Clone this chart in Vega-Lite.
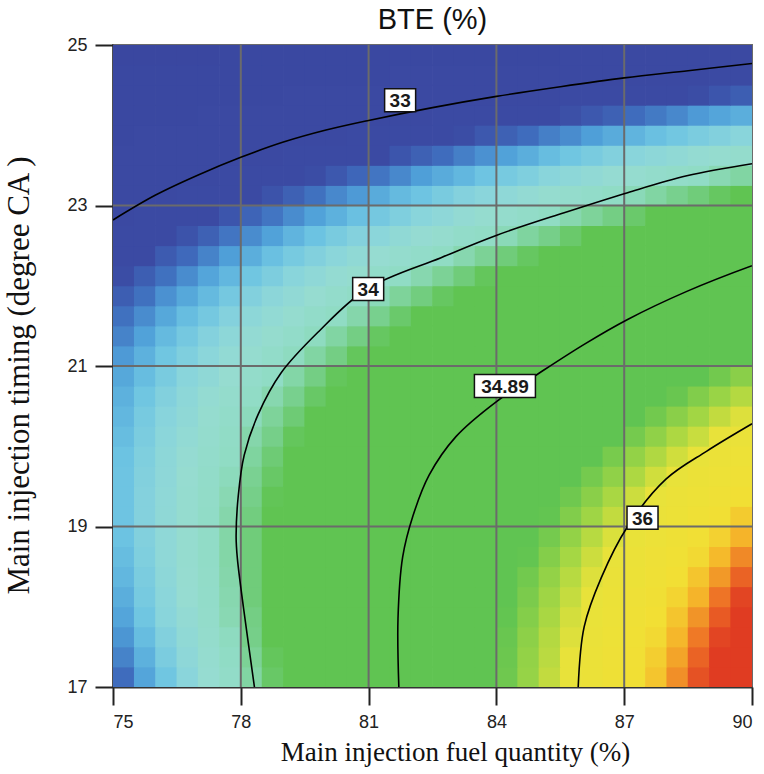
{
  "$schema": "https://vega.github.io/schema/vega-lite/v6.json",
  "width": 639,
  "height": 642,
  "autosize": {"type": "none"},
  "padding": {"left": 113, "top": 45, "right": 12, "bottom": 87},
  "background": "white",
  "title": {"text": "BTE (%)", "font": "Liberation Sans", "fontSize": 29, "fontWeight": "normal", "color": "#111", "anchor": "middle", "baseline": "alphabetic", "offset": 11, "dy": 33},
  "config": {"view": {"stroke": "#6b6b6b", "strokeWidth": 2}},
  "datasets": {
    "grid": [
{"x":75.25,"y":17.125,"b":33.27},{"x":75.75,"y":17.125,"b":33.40},{"x":76.25,"y":17.125,"b":33.52},{"x":76.75,"y":17.125,"b":33.65},{"x":77.25,"y":17.125,"b":33.78},{"x":77.75,"y":17.125,"b":33.90},{"x":78.25,"y":17.125,"b":34.03},{"x":78.75,"y":17.125,"b":34.16},{"x":79.25,"y":17.125,"b":34.28},{"x":79.75,"y":17.125,"b":34.41},{"x":80.25,"y":17.125,"b":34.54},{"x":80.75,"y":17.125,"b":34.67},{"x":81.25,"y":17.125,"b":34.79},{"x":81.75,"y":17.125,"b":34.92},{"x":82.25,"y":17.125,"b":35.05},{"x":82.75,"y":17.125,"b":35.17},{"x":83.25,"y":17.125,"b":35.30},{"x":83.75,"y":17.125,"b":35.43},{"x":84.25,"y":17.125,"b":35.55},{"x":84.75,"y":17.125,"b":35.68},{"x":85.25,"y":17.125,"b":35.81},{"x":85.75,"y":17.125,"b":35.94},{"x":86.25,"y":17.125,"b":36.06},{"x":86.75,"y":17.125,"b":36.19},{"x":87.25,"y":17.125,"b":36.32},{"x":87.75,"y":17.125,"b":36.44},{"x":88.25,"y":17.125,"b":36.57},{"x":88.75,"y":17.125,"b":36.70},{"x":89.25,"y":17.125,"b":36.82},{"x":89.75,"y":17.125,"b":36.95},
{"x":75.25,"y":17.375,"b":33.32},{"x":75.75,"y":17.375,"b":33.44},{"x":76.25,"y":17.375,"b":33.57},{"x":76.75,"y":17.375,"b":33.69},{"x":77.25,"y":17.375,"b":33.81},{"x":77.75,"y":17.375,"b":33.94},{"x":78.25,"y":17.375,"b":34.06},{"x":78.75,"y":17.375,"b":34.18},{"x":79.25,"y":17.375,"b":34.31},{"x":79.75,"y":17.375,"b":34.43},{"x":80.25,"y":17.375,"b":34.56},{"x":80.75,"y":17.375,"b":34.68},{"x":81.25,"y":17.375,"b":34.80},{"x":81.75,"y":17.375,"b":34.93},{"x":82.25,"y":17.375,"b":35.05},{"x":82.75,"y":17.375,"b":35.17},{"x":83.25,"y":17.375,"b":35.30},{"x":83.75,"y":17.375,"b":35.42},{"x":84.25,"y":17.375,"b":35.54},{"x":84.75,"y":17.375,"b":35.67},{"x":85.25,"y":17.375,"b":35.79},{"x":85.75,"y":17.375,"b":35.92},{"x":86.25,"y":17.375,"b":36.04},{"x":86.75,"y":17.375,"b":36.16},{"x":87.25,"y":17.375,"b":36.29},{"x":87.75,"y":17.375,"b":36.41},{"x":88.25,"y":17.375,"b":36.53},{"x":88.75,"y":17.375,"b":36.66},{"x":89.25,"y":17.375,"b":36.78},{"x":89.75,"y":17.375,"b":36.91},
{"x":75.25,"y":17.625,"b":33.36},{"x":75.75,"y":17.625,"b":33.48},{"x":76.25,"y":17.625,"b":33.60},{"x":76.75,"y":17.625,"b":33.72},{"x":77.25,"y":17.625,"b":33.84},{"x":77.75,"y":17.625,"b":33.96},{"x":78.25,"y":17.625,"b":34.09},{"x":78.75,"y":17.625,"b":34.21},{"x":79.25,"y":17.625,"b":34.33},{"x":79.75,"y":17.625,"b":34.45},{"x":80.25,"y":17.625,"b":34.57},{"x":80.75,"y":17.625,"b":34.69},{"x":81.25,"y":17.625,"b":34.81},{"x":81.75,"y":17.625,"b":34.93},{"x":82.25,"y":17.625,"b":35.05},{"x":82.75,"y":17.625,"b":35.17},{"x":83.25,"y":17.625,"b":35.29},{"x":83.75,"y":17.625,"b":35.41},{"x":84.25,"y":17.625,"b":35.53},{"x":84.75,"y":17.625,"b":35.65},{"x":85.25,"y":17.625,"b":35.77},{"x":85.75,"y":17.625,"b":35.89},{"x":86.25,"y":17.625,"b":36.01},{"x":86.75,"y":17.625,"b":36.13},{"x":87.25,"y":17.625,"b":36.25},{"x":87.75,"y":17.625,"b":36.37},{"x":88.25,"y":17.625,"b":36.49},{"x":88.75,"y":17.625,"b":36.61},{"x":89.25,"y":17.625,"b":36.73},{"x":89.75,"y":17.625,"b":36.85},
{"x":75.25,"y":17.875,"b":33.40},{"x":75.75,"y":17.875,"b":33.52},{"x":76.25,"y":17.875,"b":33.64},{"x":76.75,"y":17.875,"b":33.75},{"x":77.25,"y":17.875,"b":33.87},{"x":77.75,"y":17.875,"b":33.99},{"x":78.25,"y":17.875,"b":34.10},{"x":78.75,"y":17.875,"b":34.22},{"x":79.25,"y":17.875,"b":34.34},{"x":79.75,"y":17.875,"b":34.45},{"x":80.25,"y":17.875,"b":34.57},{"x":80.75,"y":17.875,"b":34.69},{"x":81.25,"y":17.875,"b":34.81},{"x":81.75,"y":17.875,"b":34.92},{"x":82.25,"y":17.875,"b":35.04},{"x":82.75,"y":17.875,"b":35.16},{"x":83.25,"y":17.875,"b":35.27},{"x":83.75,"y":17.875,"b":35.39},{"x":84.25,"y":17.875,"b":35.51},{"x":84.75,"y":17.875,"b":35.62},{"x":85.25,"y":17.875,"b":35.74},{"x":85.75,"y":17.875,"b":35.86},{"x":86.25,"y":17.875,"b":35.98},{"x":86.75,"y":17.875,"b":36.09},{"x":87.25,"y":17.875,"b":36.21},{"x":87.75,"y":17.875,"b":36.33},{"x":88.25,"y":17.875,"b":36.44},{"x":88.75,"y":17.875,"b":36.56},{"x":89.25,"y":17.875,"b":36.68},{"x":89.75,"y":17.875,"b":36.79},
{"x":75.25,"y":18.125,"b":33.43},{"x":75.75,"y":18.125,"b":33.55},{"x":76.25,"y":18.125,"b":33.66},{"x":76.75,"y":18.125,"b":33.78},{"x":77.25,"y":18.125,"b":33.89},{"x":77.75,"y":18.125,"b":34.00},{"x":78.25,"y":18.125,"b":34.12},{"x":78.75,"y":18.125,"b":34.23},{"x":79.25,"y":18.125,"b":34.34},{"x":79.75,"y":18.125,"b":34.46},{"x":80.25,"y":18.125,"b":34.57},{"x":80.75,"y":18.125,"b":34.68},{"x":81.25,"y":18.125,"b":34.80},{"x":81.75,"y":18.125,"b":34.91},{"x":82.25,"y":18.125,"b":35.03},{"x":82.75,"y":18.125,"b":35.14},{"x":83.25,"y":18.125,"b":35.25},{"x":83.75,"y":18.125,"b":35.37},{"x":84.25,"y":18.125,"b":35.48},{"x":84.75,"y":18.125,"b":35.59},{"x":85.25,"y":18.125,"b":35.71},{"x":85.75,"y":18.125,"b":35.82},{"x":86.25,"y":18.125,"b":35.93},{"x":86.75,"y":18.125,"b":36.05},{"x":87.25,"y":18.125,"b":36.16},{"x":87.75,"y":18.125,"b":36.28},{"x":88.25,"y":18.125,"b":36.39},{"x":88.75,"y":18.125,"b":36.50},{"x":89.25,"y":18.125,"b":36.62},{"x":89.75,"y":18.125,"b":36.73},
{"x":75.25,"y":18.375,"b":33.46},{"x":75.75,"y":18.375,"b":33.57},{"x":76.25,"y":18.375,"b":33.68},{"x":76.75,"y":18.375,"b":33.79},{"x":77.25,"y":18.375,"b":33.90},{"x":77.75,"y":18.375,"b":34.01},{"x":78.25,"y":18.375,"b":34.12},{"x":78.75,"y":18.375,"b":34.23},{"x":79.25,"y":18.375,"b":34.34},{"x":79.75,"y":18.375,"b":34.45},{"x":80.25,"y":18.375,"b":34.56},{"x":80.75,"y":18.375,"b":34.67},{"x":81.25,"y":18.375,"b":34.78},{"x":81.75,"y":18.375,"b":34.90},{"x":82.25,"y":18.375,"b":35.01},{"x":82.75,"y":18.375,"b":35.12},{"x":83.25,"y":18.375,"b":35.23},{"x":83.75,"y":18.375,"b":35.34},{"x":84.25,"y":18.375,"b":35.45},{"x":84.75,"y":18.375,"b":35.56},{"x":85.25,"y":18.375,"b":35.67},{"x":85.75,"y":18.375,"b":35.78},{"x":86.25,"y":18.375,"b":35.89},{"x":86.75,"y":18.375,"b":36.00},{"x":87.25,"y":18.375,"b":36.11},{"x":87.75,"y":18.375,"b":36.22},{"x":88.25,"y":18.375,"b":36.33},{"x":88.75,"y":18.375,"b":36.44},{"x":89.25,"y":18.375,"b":36.55},{"x":89.75,"y":18.375,"b":36.66},
{"x":75.25,"y":18.625,"b":33.48},{"x":75.75,"y":18.625,"b":33.59},{"x":76.25,"y":18.625,"b":33.70},{"x":76.75,"y":18.625,"b":33.80},{"x":77.25,"y":18.625,"b":33.91},{"x":77.75,"y":18.625,"b":34.02},{"x":78.25,"y":18.625,"b":34.12},{"x":78.75,"y":18.625,"b":34.23},{"x":79.25,"y":18.625,"b":34.34},{"x":79.75,"y":18.625,"b":34.44},{"x":80.25,"y":18.625,"b":34.55},{"x":80.75,"y":18.625,"b":34.66},{"x":81.25,"y":18.625,"b":34.77},{"x":81.75,"y":18.625,"b":34.87},{"x":82.25,"y":18.625,"b":34.98},{"x":82.75,"y":18.625,"b":35.09},{"x":83.25,"y":18.625,"b":35.19},{"x":83.75,"y":18.625,"b":35.30},{"x":84.25,"y":18.625,"b":35.41},{"x":84.75,"y":18.625,"b":35.51},{"x":85.25,"y":18.625,"b":35.62},{"x":85.75,"y":18.625,"b":35.73},{"x":86.25,"y":18.625,"b":35.84},{"x":86.75,"y":18.625,"b":35.94},{"x":87.25,"y":18.625,"b":36.05},{"x":87.75,"y":18.625,"b":36.16},{"x":88.25,"y":18.625,"b":36.26},{"x":88.75,"y":18.625,"b":36.37},{"x":89.25,"y":18.625,"b":36.48},{"x":89.75,"y":18.625,"b":36.58},
{"x":75.25,"y":18.875,"b":33.50},{"x":75.75,"y":18.875,"b":33.60},{"x":76.25,"y":18.875,"b":33.70},{"x":76.75,"y":18.875,"b":33.81},{"x":77.25,"y":18.875,"b":33.91},{"x":77.75,"y":18.875,"b":34.02},{"x":78.25,"y":18.875,"b":34.12},{"x":78.75,"y":18.875,"b":34.22},{"x":79.25,"y":18.875,"b":34.33},{"x":79.75,"y":18.875,"b":34.43},{"x":80.25,"y":18.875,"b":34.53},{"x":80.75,"y":18.875,"b":34.64},{"x":81.25,"y":18.875,"b":34.74},{"x":81.75,"y":18.875,"b":34.84},{"x":82.25,"y":18.875,"b":34.95},{"x":82.75,"y":18.875,"b":35.05},{"x":83.25,"y":18.875,"b":35.16},{"x":83.75,"y":18.875,"b":35.26},{"x":84.25,"y":18.875,"b":35.36},{"x":84.75,"y":18.875,"b":35.47},{"x":85.25,"y":18.875,"b":35.57},{"x":85.75,"y":18.875,"b":35.67},{"x":86.25,"y":18.875,"b":35.78},{"x":86.75,"y":18.875,"b":35.88},{"x":87.25,"y":18.875,"b":35.98},{"x":87.75,"y":18.875,"b":36.09},{"x":88.25,"y":18.875,"b":36.19},{"x":88.75,"y":18.875,"b":36.30},{"x":89.25,"y":18.875,"b":36.40},{"x":89.75,"y":18.875,"b":36.50},
{"x":75.25,"y":19.125,"b":33.51},{"x":75.75,"y":19.125,"b":33.61},{"x":76.25,"y":19.125,"b":33.71},{"x":76.75,"y":19.125,"b":33.81},{"x":77.25,"y":19.125,"b":33.91},{"x":77.75,"y":19.125,"b":34.01},{"x":78.25,"y":19.125,"b":34.11},{"x":78.75,"y":19.125,"b":34.21},{"x":79.25,"y":19.125,"b":34.31},{"x":79.75,"y":19.125,"b":34.41},{"x":80.25,"y":19.125,"b":34.51},{"x":80.75,"y":19.125,"b":34.61},{"x":81.25,"y":19.125,"b":34.71},{"x":81.75,"y":19.125,"b":34.81},{"x":82.25,"y":19.125,"b":34.91},{"x":82.75,"y":19.125,"b":35.01},{"x":83.25,"y":19.125,"b":35.11},{"x":83.75,"y":19.125,"b":35.21},{"x":84.25,"y":19.125,"b":35.31},{"x":84.75,"y":19.125,"b":35.41},{"x":85.25,"y":19.125,"b":35.51},{"x":85.75,"y":19.125,"b":35.61},{"x":86.25,"y":19.125,"b":35.71},{"x":86.75,"y":19.125,"b":35.81},{"x":87.25,"y":19.125,"b":35.91},{"x":87.75,"y":19.125,"b":36.01},{"x":88.25,"y":19.125,"b":36.11},{"x":88.75,"y":19.125,"b":36.21},{"x":89.25,"y":19.125,"b":36.32},{"x":89.75,"y":19.125,"b":36.42},
{"x":75.25,"y":19.375,"b":33.51},{"x":75.75,"y":19.375,"b":33.61},{"x":76.25,"y":19.375,"b":33.70},{"x":76.75,"y":19.375,"b":33.80},{"x":77.25,"y":19.375,"b":33.90},{"x":77.75,"y":19.375,"b":33.99},{"x":78.25,"y":19.375,"b":34.09},{"x":78.75,"y":19.375,"b":34.19},{"x":79.25,"y":19.375,"b":34.29},{"x":79.75,"y":19.375,"b":34.38},{"x":80.25,"y":19.375,"b":34.48},{"x":80.75,"y":19.375,"b":34.58},{"x":81.25,"y":19.375,"b":34.67},{"x":81.75,"y":19.375,"b":34.77},{"x":82.25,"y":19.375,"b":34.87},{"x":82.75,"y":19.375,"b":34.96},{"x":83.25,"y":19.375,"b":35.06},{"x":83.75,"y":19.375,"b":35.16},{"x":84.25,"y":19.375,"b":35.26},{"x":84.75,"y":19.375,"b":35.35},{"x":85.25,"y":19.375,"b":35.45},{"x":85.75,"y":19.375,"b":35.55},{"x":86.25,"y":19.375,"b":35.64},{"x":86.75,"y":19.375,"b":35.74},{"x":87.25,"y":19.375,"b":35.84},{"x":87.75,"y":19.375,"b":35.93},{"x":88.25,"y":19.375,"b":36.03},{"x":88.75,"y":19.375,"b":36.13},{"x":89.25,"y":19.375,"b":36.23},{"x":89.75,"y":19.375,"b":36.32},
{"x":75.25,"y":19.625,"b":33.51},{"x":75.75,"y":19.625,"b":33.60},{"x":76.25,"y":19.625,"b":33.69},{"x":76.75,"y":19.625,"b":33.79},{"x":77.25,"y":19.625,"b":33.88},{"x":77.75,"y":19.625,"b":33.97},{"x":78.25,"y":19.625,"b":34.07},{"x":78.75,"y":19.625,"b":34.16},{"x":79.25,"y":19.625,"b":34.26},{"x":79.75,"y":19.625,"b":34.35},{"x":80.25,"y":19.625,"b":34.44},{"x":80.75,"y":19.625,"b":34.54},{"x":81.25,"y":19.625,"b":34.63},{"x":81.75,"y":19.625,"b":34.72},{"x":82.25,"y":19.625,"b":34.82},{"x":82.75,"y":19.625,"b":34.91},{"x":83.25,"y":19.625,"b":35.01},{"x":83.75,"y":19.625,"b":35.10},{"x":84.25,"y":19.625,"b":35.19},{"x":84.75,"y":19.625,"b":35.29},{"x":85.25,"y":19.625,"b":35.38},{"x":85.75,"y":19.625,"b":35.47},{"x":86.25,"y":19.625,"b":35.57},{"x":86.75,"y":19.625,"b":35.66},{"x":87.25,"y":19.625,"b":35.75},{"x":87.75,"y":19.625,"b":35.85},{"x":88.25,"y":19.625,"b":35.94},{"x":88.75,"y":19.625,"b":36.04},{"x":89.25,"y":19.625,"b":36.13},{"x":89.75,"y":19.625,"b":36.22},
{"x":75.25,"y":19.875,"b":33.50},{"x":75.75,"y":19.875,"b":33.59},{"x":76.25,"y":19.875,"b":33.68},{"x":76.75,"y":19.875,"b":33.77},{"x":77.25,"y":19.875,"b":33.86},{"x":77.75,"y":19.875,"b":33.95},{"x":78.25,"y":19.875,"b":34.04},{"x":78.75,"y":19.875,"b":34.13},{"x":79.25,"y":19.875,"b":34.22},{"x":79.75,"y":19.875,"b":34.31},{"x":80.25,"y":19.875,"b":34.40},{"x":80.75,"y":19.875,"b":34.49},{"x":81.25,"y":19.875,"b":34.58},{"x":81.75,"y":19.875,"b":34.67},{"x":82.25,"y":19.875,"b":34.76},{"x":82.75,"y":19.875,"b":34.85},{"x":83.25,"y":19.875,"b":34.94},{"x":83.75,"y":19.875,"b":35.03},{"x":84.25,"y":19.875,"b":35.12},{"x":84.75,"y":19.875,"b":35.21},{"x":85.25,"y":19.875,"b":35.30},{"x":85.75,"y":19.875,"b":35.40},{"x":86.25,"y":19.875,"b":35.49},{"x":86.75,"y":19.875,"b":35.58},{"x":87.25,"y":19.875,"b":35.67},{"x":87.75,"y":19.875,"b":35.76},{"x":88.25,"y":19.875,"b":35.85},{"x":88.75,"y":19.875,"b":35.94},{"x":89.25,"y":19.875,"b":36.03},{"x":89.75,"y":19.875,"b":36.12},
{"x":75.25,"y":20.125,"b":33.48},{"x":75.75,"y":20.125,"b":33.57},{"x":76.25,"y":20.125,"b":33.66},{"x":76.75,"y":20.125,"b":33.74},{"x":77.25,"y":20.125,"b":33.83},{"x":77.75,"y":20.125,"b":33.92},{"x":78.25,"y":20.125,"b":34.01},{"x":78.75,"y":20.125,"b":34.09},{"x":79.25,"y":20.125,"b":34.18},{"x":79.75,"y":20.125,"b":34.27},{"x":80.25,"y":20.125,"b":34.35},{"x":80.75,"y":20.125,"b":34.44},{"x":81.25,"y":20.125,"b":34.53},{"x":81.75,"y":20.125,"b":34.61},{"x":82.25,"y":20.125,"b":34.70},{"x":82.75,"y":20.125,"b":34.79},{"x":83.25,"y":20.125,"b":34.88},{"x":83.75,"y":20.125,"b":34.96},{"x":84.25,"y":20.125,"b":35.05},{"x":84.75,"y":20.125,"b":35.14},{"x":85.25,"y":20.125,"b":35.22},{"x":85.75,"y":20.125,"b":35.31},{"x":86.25,"y":20.125,"b":35.40},{"x":86.75,"y":20.125,"b":35.48},{"x":87.25,"y":20.125,"b":35.57},{"x":87.75,"y":20.125,"b":35.66},{"x":88.25,"y":20.125,"b":35.75},{"x":88.75,"y":20.125,"b":35.83},{"x":89.25,"y":20.125,"b":35.92},{"x":89.75,"y":20.125,"b":36.01},
{"x":75.25,"y":20.375,"b":33.46},{"x":75.75,"y":20.375,"b":33.55},{"x":76.25,"y":20.375,"b":33.63},{"x":76.75,"y":20.375,"b":33.71},{"x":77.25,"y":20.375,"b":33.80},{"x":77.75,"y":20.375,"b":33.88},{"x":78.25,"y":20.375,"b":33.97},{"x":78.75,"y":20.375,"b":34.05},{"x":79.25,"y":20.375,"b":34.13},{"x":79.75,"y":20.375,"b":34.22},{"x":80.25,"y":20.375,"b":34.30},{"x":80.75,"y":20.375,"b":34.38},{"x":81.25,"y":20.375,"b":34.47},{"x":81.75,"y":20.375,"b":34.55},{"x":82.25,"y":20.375,"b":34.64},{"x":82.75,"y":20.375,"b":34.72},{"x":83.25,"y":20.375,"b":34.80},{"x":83.75,"y":20.375,"b":34.89},{"x":84.25,"y":20.375,"b":34.97},{"x":84.75,"y":20.375,"b":35.05},{"x":85.25,"y":20.375,"b":35.14},{"x":85.75,"y":20.375,"b":35.22},{"x":86.25,"y":20.375,"b":35.30},{"x":86.75,"y":20.375,"b":35.39},{"x":87.25,"y":20.375,"b":35.47},{"x":87.75,"y":20.375,"b":35.56},{"x":88.25,"y":20.375,"b":35.64},{"x":88.75,"y":20.375,"b":35.72},{"x":89.25,"y":20.375,"b":35.81},{"x":89.75,"y":20.375,"b":35.89},
{"x":75.25,"y":20.625,"b":33.44},{"x":75.75,"y":20.625,"b":33.52},{"x":76.25,"y":20.625,"b":33.60},{"x":76.75,"y":20.625,"b":33.68},{"x":77.25,"y":20.625,"b":33.76},{"x":77.75,"y":20.625,"b":33.84},{"x":78.25,"y":20.625,"b":33.92},{"x":78.75,"y":20.625,"b":34.00},{"x":79.25,"y":20.625,"b":34.08},{"x":79.75,"y":20.625,"b":34.16},{"x":80.25,"y":20.625,"b":34.24},{"x":80.75,"y":20.625,"b":34.32},{"x":81.25,"y":20.625,"b":34.40},{"x":81.75,"y":20.625,"b":34.48},{"x":82.25,"y":20.625,"b":34.56},{"x":82.75,"y":20.625,"b":34.64},{"x":83.25,"y":20.625,"b":34.72},{"x":83.75,"y":20.625,"b":34.80},{"x":84.25,"y":20.625,"b":34.88},{"x":84.75,"y":20.625,"b":34.96},{"x":85.25,"y":20.625,"b":35.04},{"x":85.75,"y":20.625,"b":35.12},{"x":86.25,"y":20.625,"b":35.21},{"x":86.75,"y":20.625,"b":35.29},{"x":87.25,"y":20.625,"b":35.37},{"x":87.75,"y":20.625,"b":35.45},{"x":88.25,"y":20.625,"b":35.53},{"x":88.75,"y":20.625,"b":35.61},{"x":89.25,"y":20.625,"b":35.69},{"x":89.75,"y":20.625,"b":35.77},
{"x":75.25,"y":20.875,"b":33.41},{"x":75.75,"y":20.875,"b":33.48},{"x":76.25,"y":20.875,"b":33.56},{"x":76.75,"y":20.875,"b":33.64},{"x":77.25,"y":20.875,"b":33.71},{"x":77.75,"y":20.875,"b":33.79},{"x":78.25,"y":20.875,"b":33.87},{"x":78.75,"y":20.875,"b":33.94},{"x":79.25,"y":20.875,"b":34.02},{"x":79.75,"y":20.875,"b":34.10},{"x":80.25,"y":20.875,"b":34.18},{"x":80.75,"y":20.875,"b":34.25},{"x":81.25,"y":20.875,"b":34.33},{"x":81.75,"y":20.875,"b":34.41},{"x":82.25,"y":20.875,"b":34.48},{"x":82.75,"y":20.875,"b":34.56},{"x":83.25,"y":20.875,"b":34.64},{"x":83.75,"y":20.875,"b":34.71},{"x":84.25,"y":20.875,"b":34.79},{"x":84.75,"y":20.875,"b":34.87},{"x":85.25,"y":20.875,"b":34.95},{"x":85.75,"y":20.875,"b":35.02},{"x":86.25,"y":20.875,"b":35.10},{"x":86.75,"y":20.875,"b":35.18},{"x":87.25,"y":20.875,"b":35.25},{"x":87.75,"y":20.875,"b":35.33},{"x":88.25,"y":20.875,"b":35.41},{"x":88.75,"y":20.875,"b":35.48},{"x":89.25,"y":20.875,"b":35.56},{"x":89.75,"y":20.875,"b":35.64},
{"x":75.25,"y":21.125,"b":33.37},{"x":75.75,"y":21.125,"b":33.44},{"x":76.25,"y":21.125,"b":33.52},{"x":76.75,"y":21.125,"b":33.59},{"x":77.25,"y":21.125,"b":33.66},{"x":77.75,"y":21.125,"b":33.74},{"x":78.25,"y":21.125,"b":33.81},{"x":78.75,"y":21.125,"b":33.88},{"x":79.25,"y":21.125,"b":33.96},{"x":79.75,"y":21.125,"b":34.03},{"x":80.25,"y":21.125,"b":34.10},{"x":80.75,"y":21.125,"b":34.18},{"x":81.25,"y":21.125,"b":34.25},{"x":81.75,"y":21.125,"b":34.33},{"x":82.25,"y":21.125,"b":34.40},{"x":82.75,"y":21.125,"b":34.47},{"x":83.25,"y":21.125,"b":34.55},{"x":83.75,"y":21.125,"b":34.62},{"x":84.25,"y":21.125,"b":34.69},{"x":84.75,"y":21.125,"b":34.77},{"x":85.25,"y":21.125,"b":34.84},{"x":85.75,"y":21.125,"b":34.92},{"x":86.25,"y":21.125,"b":34.99},{"x":86.75,"y":21.125,"b":35.06},{"x":87.25,"y":21.125,"b":35.14},{"x":87.75,"y":21.125,"b":35.21},{"x":88.25,"y":21.125,"b":35.28},{"x":88.75,"y":21.125,"b":35.36},{"x":89.25,"y":21.125,"b":35.43},{"x":89.75,"y":21.125,"b":35.50},
{"x":75.25,"y":21.375,"b":33.32},{"x":75.75,"y":21.375,"b":33.39},{"x":76.25,"y":21.375,"b":33.47},{"x":76.75,"y":21.375,"b":33.54},{"x":77.25,"y":21.375,"b":33.61},{"x":77.75,"y":21.375,"b":33.68},{"x":78.25,"y":21.375,"b":33.75},{"x":78.75,"y":21.375,"b":33.82},{"x":79.25,"y":21.375,"b":33.89},{"x":79.75,"y":21.375,"b":33.96},{"x":80.25,"y":21.375,"b":34.03},{"x":80.75,"y":21.375,"b":34.10},{"x":81.25,"y":21.375,"b":34.17},{"x":81.75,"y":21.375,"b":34.24},{"x":82.25,"y":21.375,"b":34.31},{"x":82.75,"y":21.375,"b":34.38},{"x":83.25,"y":21.375,"b":34.45},{"x":83.75,"y":21.375,"b":34.52},{"x":84.25,"y":21.375,"b":34.59},{"x":84.75,"y":21.375,"b":34.66},{"x":85.25,"y":21.375,"b":34.73},{"x":85.75,"y":21.375,"b":34.80},{"x":86.25,"y":21.375,"b":34.87},{"x":86.75,"y":21.375,"b":34.94},{"x":87.25,"y":21.375,"b":35.01},{"x":87.75,"y":21.375,"b":35.08},{"x":88.25,"y":21.375,"b":35.15},{"x":88.75,"y":21.375,"b":35.22},{"x":89.25,"y":21.375,"b":35.29},{"x":89.75,"y":21.375,"b":35.36},
{"x":75.25,"y":21.625,"b":33.28},{"x":75.75,"y":21.625,"b":33.34},{"x":76.25,"y":21.625,"b":33.41},{"x":76.75,"y":21.625,"b":33.48},{"x":77.25,"y":21.625,"b":33.54},{"x":77.75,"y":21.625,"b":33.61},{"x":78.25,"y":21.625,"b":33.68},{"x":78.75,"y":21.625,"b":33.74},{"x":79.25,"y":21.625,"b":33.81},{"x":79.75,"y":21.625,"b":33.88},{"x":80.25,"y":21.625,"b":33.95},{"x":80.75,"y":21.625,"b":34.01},{"x":81.25,"y":21.625,"b":34.08},{"x":81.75,"y":21.625,"b":34.15},{"x":82.25,"y":21.625,"b":34.21},{"x":82.75,"y":21.625,"b":34.28},{"x":83.25,"y":21.625,"b":34.35},{"x":83.75,"y":21.625,"b":34.41},{"x":84.25,"y":21.625,"b":34.48},{"x":84.75,"y":21.625,"b":34.55},{"x":85.25,"y":21.625,"b":34.62},{"x":85.75,"y":21.625,"b":34.68},{"x":86.25,"y":21.625,"b":34.75},{"x":86.75,"y":21.625,"b":34.82},{"x":87.25,"y":21.625,"b":34.88},{"x":87.75,"y":21.625,"b":34.95},{"x":88.25,"y":21.625,"b":35.02},{"x":88.75,"y":21.625,"b":35.08},{"x":89.25,"y":21.625,"b":35.15},{"x":89.75,"y":21.625,"b":35.22},
{"x":75.25,"y":21.875,"b":33.22},{"x":75.75,"y":21.875,"b":33.28},{"x":76.25,"y":21.875,"b":33.35},{"x":76.75,"y":21.875,"b":33.41},{"x":77.25,"y":21.875,"b":33.47},{"x":77.75,"y":21.875,"b":33.54},{"x":78.25,"y":21.875,"b":33.60},{"x":78.75,"y":21.875,"b":33.67},{"x":79.25,"y":21.875,"b":33.73},{"x":79.75,"y":21.875,"b":33.79},{"x":80.25,"y":21.875,"b":33.86},{"x":80.75,"y":21.875,"b":33.92},{"x":81.25,"y":21.875,"b":33.98},{"x":81.75,"y":21.875,"b":34.05},{"x":82.25,"y":21.875,"b":34.11},{"x":82.75,"y":21.875,"b":34.17},{"x":83.25,"y":21.875,"b":34.24},{"x":83.75,"y":21.875,"b":34.30},{"x":84.25,"y":21.875,"b":34.37},{"x":84.75,"y":21.875,"b":34.43},{"x":85.25,"y":21.875,"b":34.49},{"x":85.75,"y":21.875,"b":34.56},{"x":86.25,"y":21.875,"b":34.62},{"x":86.75,"y":21.875,"b":34.68},{"x":87.25,"y":21.875,"b":34.75},{"x":87.75,"y":21.875,"b":34.81},{"x":88.25,"y":21.875,"b":34.88},{"x":88.75,"y":21.875,"b":34.94},{"x":89.25,"y":21.875,"b":35.00},{"x":89.75,"y":21.875,"b":35.07},
{"x":75.25,"y":22.125,"b":33.16},{"x":75.75,"y":22.125,"b":33.22},{"x":76.25,"y":22.125,"b":33.28},{"x":76.75,"y":22.125,"b":33.34},{"x":77.25,"y":22.125,"b":33.40},{"x":77.75,"y":22.125,"b":33.46},{"x":78.25,"y":22.125,"b":33.52},{"x":78.75,"y":22.125,"b":33.58},{"x":79.25,"y":22.125,"b":33.64},{"x":79.75,"y":22.125,"b":33.70},{"x":80.25,"y":22.125,"b":33.76},{"x":80.75,"y":22.125,"b":33.82},{"x":81.25,"y":22.125,"b":33.88},{"x":81.75,"y":22.125,"b":33.94},{"x":82.25,"y":22.125,"b":34.00},{"x":82.75,"y":22.125,"b":34.06},{"x":83.25,"y":22.125,"b":34.12},{"x":83.75,"y":22.125,"b":34.18},{"x":84.25,"y":22.125,"b":34.24},{"x":84.75,"y":22.125,"b":34.30},{"x":85.25,"y":22.125,"b":34.37},{"x":85.75,"y":22.125,"b":34.43},{"x":86.25,"y":22.125,"b":34.49},{"x":86.75,"y":22.125,"b":34.55},{"x":87.25,"y":22.125,"b":34.61},{"x":87.75,"y":22.125,"b":34.67},{"x":88.25,"y":22.125,"b":34.73},{"x":88.75,"y":22.125,"b":34.79},{"x":89.25,"y":22.125,"b":34.85},{"x":89.75,"y":22.125,"b":34.91},
{"x":75.25,"y":22.375,"b":33.09},{"x":75.75,"y":22.375,"b":33.15},{"x":76.25,"y":22.375,"b":33.21},{"x":76.75,"y":22.375,"b":33.26},{"x":77.25,"y":22.375,"b":33.32},{"x":77.75,"y":22.375,"b":33.38},{"x":78.25,"y":22.375,"b":33.43},{"x":78.75,"y":22.375,"b":33.49},{"x":79.25,"y":22.375,"b":33.55},{"x":79.75,"y":22.375,"b":33.60},{"x":80.25,"y":22.375,"b":33.66},{"x":80.75,"y":22.375,"b":33.72},{"x":81.25,"y":22.375,"b":33.78},{"x":81.75,"y":22.375,"b":33.83},{"x":82.25,"y":22.375,"b":33.89},{"x":82.75,"y":22.375,"b":33.95},{"x":83.25,"y":22.375,"b":34.00},{"x":83.75,"y":22.375,"b":34.06},{"x":84.25,"y":22.375,"b":34.12},{"x":84.75,"y":22.375,"b":34.17},{"x":85.25,"y":22.375,"b":34.23},{"x":85.75,"y":22.375,"b":34.29},{"x":86.25,"y":22.375,"b":34.35},{"x":86.75,"y":22.375,"b":34.40},{"x":87.25,"y":22.375,"b":34.46},{"x":87.75,"y":22.375,"b":34.52},{"x":88.25,"y":22.375,"b":34.57},{"x":88.75,"y":22.375,"b":34.63},{"x":89.25,"y":22.375,"b":34.69},{"x":89.75,"y":22.375,"b":34.74},
{"x":75.25,"y":22.625,"b":33.02},{"x":75.75,"y":22.625,"b":33.07},{"x":76.25,"y":22.625,"b":33.13},{"x":76.75,"y":22.625,"b":33.18},{"x":77.25,"y":22.625,"b":33.23},{"x":77.75,"y":22.625,"b":33.29},{"x":78.25,"y":22.625,"b":33.34},{"x":78.75,"y":22.625,"b":33.39},{"x":79.25,"y":22.625,"b":33.45},{"x":79.75,"y":22.625,"b":33.50},{"x":80.25,"y":22.625,"b":33.56},{"x":80.75,"y":22.625,"b":33.61},{"x":81.25,"y":22.625,"b":33.66},{"x":81.75,"y":22.625,"b":33.72},{"x":82.25,"y":22.625,"b":33.77},{"x":82.75,"y":22.625,"b":33.82},{"x":83.25,"y":22.625,"b":33.88},{"x":83.75,"y":22.625,"b":33.93},{"x":84.25,"y":22.625,"b":33.98},{"x":84.75,"y":22.625,"b":34.04},{"x":85.25,"y":22.625,"b":34.09},{"x":85.75,"y":22.625,"b":34.15},{"x":86.25,"y":22.625,"b":34.20},{"x":86.75,"y":22.625,"b":34.25},{"x":87.25,"y":22.625,"b":34.31},{"x":87.75,"y":22.625,"b":34.36},{"x":88.25,"y":22.625,"b":34.41},{"x":88.75,"y":22.625,"b":34.47},{"x":89.25,"y":22.625,"b":34.52},{"x":89.75,"y":22.625,"b":34.58},
{"x":75.25,"y":22.875,"b":32.94},{"x":75.75,"y":22.875,"b":32.99},{"x":76.25,"y":22.875,"b":33.04},{"x":76.75,"y":22.875,"b":33.09},{"x":77.25,"y":22.875,"b":33.14},{"x":77.75,"y":22.875,"b":33.19},{"x":78.25,"y":22.875,"b":33.24},{"x":78.75,"y":22.875,"b":33.29},{"x":79.25,"y":22.875,"b":33.34},{"x":79.75,"y":22.875,"b":33.39},{"x":80.25,"y":22.875,"b":33.44},{"x":80.75,"y":22.875,"b":33.49},{"x":81.25,"y":22.875,"b":33.54},{"x":81.75,"y":22.875,"b":33.59},{"x":82.25,"y":22.875,"b":33.64},{"x":82.75,"y":22.875,"b":33.69},{"x":83.25,"y":22.875,"b":33.75},{"x":83.75,"y":22.875,"b":33.80},{"x":84.25,"y":22.875,"b":33.85},{"x":84.75,"y":22.875,"b":33.90},{"x":85.25,"y":22.875,"b":33.95},{"x":85.75,"y":22.875,"b":34.00},{"x":86.25,"y":22.875,"b":34.05},{"x":86.75,"y":22.875,"b":34.10},{"x":87.25,"y":22.875,"b":34.15},{"x":87.75,"y":22.875,"b":34.20},{"x":88.25,"y":22.875,"b":34.25},{"x":88.75,"y":22.875,"b":34.30},{"x":89.25,"y":22.875,"b":34.35},{"x":89.75,"y":22.875,"b":34.40},
{"x":75.25,"y":23.125,"b":32.86},{"x":75.75,"y":23.125,"b":32.90},{"x":76.25,"y":23.125,"b":32.95},{"x":76.75,"y":23.125,"b":33.00},{"x":77.25,"y":23.125,"b":33.04},{"x":77.75,"y":23.125,"b":33.09},{"x":78.25,"y":23.125,"b":33.14},{"x":78.75,"y":23.125,"b":33.18},{"x":79.25,"y":23.125,"b":33.23},{"x":79.75,"y":23.125,"b":33.28},{"x":80.25,"y":23.125,"b":33.33},{"x":80.75,"y":23.125,"b":33.37},{"x":81.25,"y":23.125,"b":33.42},{"x":81.75,"y":23.125,"b":33.47},{"x":82.25,"y":23.125,"b":33.51},{"x":82.75,"y":23.125,"b":33.56},{"x":83.25,"y":23.125,"b":33.61},{"x":83.75,"y":23.125,"b":33.65},{"x":84.25,"y":23.125,"b":33.70},{"x":84.75,"y":23.125,"b":33.75},{"x":85.25,"y":23.125,"b":33.80},{"x":85.75,"y":23.125,"b":33.84},{"x":86.25,"y":23.125,"b":33.89},{"x":86.75,"y":23.125,"b":33.94},{"x":87.25,"y":23.125,"b":33.98},{"x":87.75,"y":23.125,"b":34.03},{"x":88.25,"y":23.125,"b":34.08},{"x":88.75,"y":23.125,"b":34.12},{"x":89.25,"y":23.125,"b":34.17},{"x":89.75,"y":23.125,"b":34.22},
{"x":75.25,"y":23.375,"b":32.76},{"x":75.75,"y":23.375,"b":32.81},{"x":76.25,"y":23.375,"b":32.85},{"x":76.75,"y":23.375,"b":32.90},{"x":77.25,"y":23.375,"b":32.94},{"x":77.75,"y":23.375,"b":32.98},{"x":78.25,"y":23.375,"b":33.03},{"x":78.75,"y":23.375,"b":33.07},{"x":79.25,"y":23.375,"b":33.11},{"x":79.75,"y":23.375,"b":33.16},{"x":80.25,"y":23.375,"b":33.20},{"x":80.75,"y":23.375,"b":33.25},{"x":81.25,"y":23.375,"b":33.29},{"x":81.75,"y":23.375,"b":33.33},{"x":82.25,"y":23.375,"b":33.38},{"x":82.75,"y":23.375,"b":33.42},{"x":83.25,"y":23.375,"b":33.46},{"x":83.75,"y":23.375,"b":33.51},{"x":84.25,"y":23.375,"b":33.55},{"x":84.75,"y":23.375,"b":33.59},{"x":85.25,"y":23.375,"b":33.64},{"x":85.75,"y":23.375,"b":33.68},{"x":86.25,"y":23.375,"b":33.73},{"x":86.75,"y":23.375,"b":33.77},{"x":87.25,"y":23.375,"b":33.81},{"x":87.75,"y":23.375,"b":33.86},{"x":88.25,"y":23.375,"b":33.90},{"x":88.75,"y":23.375,"b":33.94},{"x":89.25,"y":23.375,"b":33.99},{"x":89.75,"y":23.375,"b":34.03},
{"x":75.25,"y":23.625,"b":32.67},{"x":75.75,"y":23.625,"b":32.71},{"x":76.25,"y":23.625,"b":32.75},{"x":76.75,"y":23.625,"b":32.79},{"x":77.25,"y":23.625,"b":32.83},{"x":77.75,"y":23.625,"b":32.87},{"x":78.25,"y":23.625,"b":32.91},{"x":78.75,"y":23.625,"b":32.95},{"x":79.25,"y":23.625,"b":32.99},{"x":79.75,"y":23.625,"b":33.03},{"x":80.25,"y":23.625,"b":33.07},{"x":80.75,"y":23.625,"b":33.11},{"x":81.25,"y":23.625,"b":33.15},{"x":81.75,"y":23.625,"b":33.19},{"x":82.25,"y":23.625,"b":33.23},{"x":82.75,"y":23.625,"b":33.27},{"x":83.25,"y":23.625,"b":33.31},{"x":83.75,"y":23.625,"b":33.35},{"x":84.25,"y":23.625,"b":33.39},{"x":84.75,"y":23.625,"b":33.43},{"x":85.25,"y":23.625,"b":33.48},{"x":85.75,"y":23.625,"b":33.52},{"x":86.25,"y":23.625,"b":33.56},{"x":86.75,"y":23.625,"b":33.60},{"x":87.25,"y":23.625,"b":33.64},{"x":87.75,"y":23.625,"b":33.68},{"x":88.25,"y":23.625,"b":33.72},{"x":88.75,"y":23.625,"b":33.76},{"x":89.25,"y":23.625,"b":33.80},{"x":89.75,"y":23.625,"b":33.84},
{"x":75.25,"y":23.875,"b":32.57},{"x":75.75,"y":23.875,"b":32.60},{"x":76.25,"y":23.875,"b":32.64},{"x":76.75,"y":23.875,"b":32.68},{"x":77.25,"y":23.875,"b":32.71},{"x":77.75,"y":23.875,"b":32.75},{"x":78.25,"y":23.875,"b":32.79},{"x":78.75,"y":23.875,"b":32.83},{"x":79.25,"y":23.875,"b":32.86},{"x":79.75,"y":23.875,"b":32.90},{"x":80.25,"y":23.875,"b":32.94},{"x":80.75,"y":23.875,"b":32.97},{"x":81.25,"y":23.875,"b":33.01},{"x":81.75,"y":23.875,"b":33.05},{"x":82.25,"y":23.875,"b":33.08},{"x":82.75,"y":23.875,"b":33.12},{"x":83.25,"y":23.875,"b":33.16},{"x":83.75,"y":23.875,"b":33.20},{"x":84.25,"y":23.875,"b":33.23},{"x":84.75,"y":23.875,"b":33.27},{"x":85.25,"y":23.875,"b":33.31},{"x":85.75,"y":23.875,"b":33.34},{"x":86.25,"y":23.875,"b":33.38},{"x":86.75,"y":23.875,"b":33.42},{"x":87.25,"y":23.875,"b":33.45},{"x":87.75,"y":23.875,"b":33.49},{"x":88.25,"y":23.875,"b":33.53},{"x":88.75,"y":23.875,"b":33.57},{"x":89.25,"y":23.875,"b":33.60},{"x":89.75,"y":23.875,"b":33.64},
{"x":75.25,"y":24.125,"b":32.46},{"x":75.75,"y":24.125,"b":32.49},{"x":76.25,"y":24.125,"b":32.53},{"x":76.75,"y":24.125,"b":32.56},{"x":77.25,"y":24.125,"b":32.59},{"x":77.75,"y":24.125,"b":32.63},{"x":78.25,"y":24.125,"b":32.66},{"x":78.75,"y":24.125,"b":32.69},{"x":79.25,"y":24.125,"b":32.73},{"x":79.75,"y":24.125,"b":32.76},{"x":80.25,"y":24.125,"b":32.80},{"x":80.75,"y":24.125,"b":32.83},{"x":81.25,"y":24.125,"b":32.86},{"x":81.75,"y":24.125,"b":32.90},{"x":82.25,"y":24.125,"b":32.93},{"x":82.75,"y":24.125,"b":32.96},{"x":83.25,"y":24.125,"b":33.00},{"x":83.75,"y":24.125,"b":33.03},{"x":84.25,"y":24.125,"b":33.06},{"x":84.75,"y":24.125,"b":33.10},{"x":85.25,"y":24.125,"b":33.13},{"x":85.75,"y":24.125,"b":33.17},{"x":86.25,"y":24.125,"b":33.20},{"x":86.75,"y":24.125,"b":33.23},{"x":87.25,"y":24.125,"b":33.27},{"x":87.75,"y":24.125,"b":33.30},{"x":88.25,"y":24.125,"b":33.33},{"x":88.75,"y":24.125,"b":33.37},{"x":89.25,"y":24.125,"b":33.40},{"x":89.75,"y":24.125,"b":33.43},
{"x":75.25,"y":24.375,"b":32.34},{"x":75.75,"y":24.375,"b":32.37},{"x":76.25,"y":24.375,"b":32.41},{"x":76.75,"y":24.375,"b":32.44},{"x":77.25,"y":24.375,"b":32.47},{"x":77.75,"y":24.375,"b":32.50},{"x":78.25,"y":24.375,"b":32.53},{"x":78.75,"y":24.375,"b":32.56},{"x":79.25,"y":24.375,"b":32.59},{"x":79.75,"y":24.375,"b":32.62},{"x":80.25,"y":24.375,"b":32.65},{"x":80.75,"y":24.375,"b":32.68},{"x":81.25,"y":24.375,"b":32.71},{"x":81.75,"y":24.375,"b":32.74},{"x":82.25,"y":24.375,"b":32.77},{"x":82.75,"y":24.375,"b":32.80},{"x":83.25,"y":24.375,"b":32.83},{"x":83.75,"y":24.375,"b":32.86},{"x":84.25,"y":24.375,"b":32.89},{"x":84.75,"y":24.375,"b":32.92},{"x":85.25,"y":24.375,"b":32.95},{"x":85.75,"y":24.375,"b":32.98},{"x":86.25,"y":24.375,"b":33.01},{"x":86.75,"y":24.375,"b":33.04},{"x":87.25,"y":24.375,"b":33.07},{"x":87.75,"y":24.375,"b":33.10},{"x":88.25,"y":24.375,"b":33.13},{"x":88.75,"y":24.375,"b":33.16},{"x":89.25,"y":24.375,"b":33.19},{"x":89.75,"y":24.375,"b":33.22},
{"x":75.25,"y":24.625,"b":32.22},{"x":75.75,"y":24.625,"b":32.25},{"x":76.25,"y":24.625,"b":32.28},{"x":76.75,"y":24.625,"b":32.31},{"x":77.25,"y":24.625,"b":32.33},{"x":77.75,"y":24.625,"b":32.36},{"x":78.25,"y":24.625,"b":32.39},{"x":78.75,"y":24.625,"b":32.41},{"x":79.25,"y":24.625,"b":32.44},{"x":79.75,"y":24.625,"b":32.47},{"x":80.25,"y":24.625,"b":32.49},{"x":80.75,"y":24.625,"b":32.52},{"x":81.25,"y":24.625,"b":32.55},{"x":81.75,"y":24.625,"b":32.58},{"x":82.25,"y":24.625,"b":32.60},{"x":82.75,"y":24.625,"b":32.63},{"x":83.25,"y":24.625,"b":32.66},{"x":83.75,"y":24.625,"b":32.68},{"x":84.25,"y":24.625,"b":32.71},{"x":84.75,"y":24.625,"b":32.74},{"x":85.25,"y":24.625,"b":32.76},{"x":85.75,"y":24.625,"b":32.79},{"x":86.25,"y":24.625,"b":32.82},{"x":86.75,"y":24.625,"b":32.85},{"x":87.25,"y":24.625,"b":32.87},{"x":87.75,"y":24.625,"b":32.90},{"x":88.25,"y":24.625,"b":32.93},{"x":88.75,"y":24.625,"b":32.95},{"x":89.25,"y":24.625,"b":32.98},{"x":89.75,"y":24.625,"b":33.01},
{"x":75.25,"y":24.875,"b":32.10},{"x":75.75,"y":24.875,"b":32.12},{"x":76.25,"y":24.875,"b":32.15},{"x":76.75,"y":24.875,"b":32.17},{"x":77.25,"y":24.875,"b":32.19},{"x":77.75,"y":24.875,"b":32.22},{"x":78.25,"y":24.875,"b":32.24},{"x":78.75,"y":24.875,"b":32.26},{"x":79.25,"y":24.875,"b":32.29},{"x":79.75,"y":24.875,"b":32.31},{"x":80.25,"y":24.875,"b":32.34},{"x":80.75,"y":24.875,"b":32.36},{"x":81.25,"y":24.875,"b":32.38},{"x":81.75,"y":24.875,"b":32.41},{"x":82.25,"y":24.875,"b":32.43},{"x":82.75,"y":24.875,"b":32.45},{"x":83.25,"y":24.875,"b":32.48},{"x":83.75,"y":24.875,"b":32.50},{"x":84.25,"y":24.875,"b":32.53},{"x":84.75,"y":24.875,"b":32.55},{"x":85.25,"y":24.875,"b":32.57},{"x":85.75,"y":24.875,"b":32.60},{"x":86.25,"y":24.875,"b":32.62},{"x":86.75,"y":24.875,"b":32.64},{"x":87.25,"y":24.875,"b":32.67},{"x":87.75,"y":24.875,"b":32.69},{"x":88.25,"y":24.875,"b":32.71},{"x":88.75,"y":24.875,"b":32.74},{"x":89.25,"y":24.875,"b":32.76},{"x":89.75,"y":24.875,"b":32.79}
    ],
    "gridX": [{"x":78},{"x":81},{"x":84},{"x":87}],
    "gridY": [{"y":19},{"y":21},{"y":23}],
    "contours": [
      {"c":"33","i":0,"x":75,"y":22.82},{"c":"33","i":1,"x":76,"y":23.13},{"c":"33","i":2,"x":77,"y":23.38},{"c":"33","i":3,"x":78,"y":23.6},{"c":"33","i":4,"x":79,"y":23.79},{"c":"33","i":5,"x":80,"y":23.94},{"c":"33","i":6,"x":81,"y":24.06},{"c":"33","i":7,"x":82.5,"y":24.22},{"c":"33","i":8,"x":84,"y":24.36},{"c":"33","i":9,"x":85.5,"y":24.48},{"c":"33","i":10,"x":87,"y":24.59},{"c":"33","i":11,"x":88.5,"y":24.68},{"c":"33","i":12,"x":90,"y":24.77},
      {"c":"34","i":0,"x":78.32,"y":17},{"c":"34","i":1,"x":78.06,"y":18},{"c":"34","i":2,"x":77.92,"y":18.6},{"c":"34","i":3,"x":77.89,"y":18.87},{"c":"34","i":4,"x":77.94,"y":19.38},{"c":"34","i":5,"x":78.08,"y":19.89},{"c":"34","i":6,"x":78.41,"y":20.4},{"c":"34","i":7,"x":78.94,"y":20.91},{"c":"34","i":8,"x":79.81,"y":21.42},{"c":"34","i":9,"x":80.96,"y":21.96},{"c":"34","i":10,"x":82.7,"y":22.35},{"c":"34","i":11,"x":84.01,"y":22.63},{"c":"34","i":12,"x":85.59,"y":22.91},{"c":"34","i":13,"x":87.08,"y":23.16},{"c":"34","i":14,"x":88.47,"y":23.37},{"c":"34","i":15,"x":90,"y":23.52},
      {"c":"34.89","i":0,"x":81.71,"y":17},{"c":"34.89","i":1,"x":81.69,"y":17.85},{"c":"34.89","i":2,"x":81.8,"y":18.62},{"c":"34.89","i":3,"x":82.04,"y":19.13},{"c":"34.89","i":4,"x":82.42,"y":19.64},{"c":"34.89","i":5,"x":83.05,"y":20.12},{"c":"34.89","i":6,"x":84.01,"y":20.56},{"c":"34.89","i":7,"x":85,"y":20.91},{"c":"34.89","i":8,"x":86.06,"y":21.27},{"c":"34.89","i":9,"x":87.08,"y":21.58},{"c":"34.89","i":10,"x":88.47,"y":21.93},{"c":"34.89","i":11,"x":90,"y":22.25},
      {"c":"36","i":0,"x":85.92,"y":17},{"c":"36","i":1,"x":86.06,"y":17.75},{"c":"36","i":2,"x":86.46,"y":18.36},{"c":"36","i":3,"x":87.08,"y":19},{"c":"36","i":4,"x":87.98,"y":19.59},{"c":"36","i":5,"x":88.94,"y":19.94},{"c":"36","i":6,"x":90,"y":20.28}
    ],
    "labels": [
      {"t":"33","x":81.74,"y":24.31},
      {"t":"34","x":80.99,"y":21.96},
      {"t":"34.89","x":84.2,"y":20.75},
      {"t":"36","x":87.43,"y":19.11}
    ]
  },
  "layer": [
    {
      "data": {"name": "grid"},
      "mark": {"type": "rect", "width": 22, "height": 21, "clip": true},
      "encoding": {
        "x": {
          "field": "x", "type": "quantitative",
          "scale": {"domain": [75, 90], "nice": false, "zero": false},
          "axis": {
            "title": "Main injection fuel quantity (%)",
            "values": [75, 78, 81, 84, 87, 90], "format": "d", "grid": false,
            "domain": true, "domainColor": "#333", "domainWidth": 2,
            "ticks": true, "tickSize": 18, "tickWidth": 2, "tickColor": "#222",
            "labelFont": "Liberation Sans", "labelFontSize": 18, "labelColor": "#222", "labelPadding": 8,
            "titleFont": "Liberation Serif", "titleFontSize": 27, "titleFontWeight": "normal", "titleColor": "#111",
            "titleX": 342, "titleY": 73, "titleBaseline": "alphabetic", "titleAlign": "center"
          }
        },
        "y": {
          "field": "y", "type": "quantitative",
          "scale": {"domain": [17, 25], "nice": false, "zero": false},
          "axis": {
            "title": "Main injection timing (degree CA )",
            "values": [17, 19, 21, 23, 25], "format": "d", "grid": false,
            "domain": true, "domainColor": "#333", "domainWidth": 2,
            "ticks": true, "tickSize": 18, "tickWidth": 2, "tickColor": "#222",
            "labelFont": "Liberation Sans", "labelFontSize": 18, "labelColor": "#222", "labelPadding": 8,
            "titleFont": "Liberation Serif", "titleFontSize": 31, "titleFontWeight": "normal", "titleColor": "#111",
            "titleX": -85, "titleY": 330, "titleBaseline": "alphabetic", "titleAlign": "center", "titleAngle": -90
          }
        },
        "color": {
          "field": "b", "type": "quantitative", "legend": null,
          "scale": {
            "domain": [32.0, 33.15, 33.27, 33.38, 33.5, 33.63, 33.78, 33.95, 34.08, 34.2, 35.5, 35.72, 35.92, 36.35, 36.5, 36.62, 36.75],
            "range": ["#3a47a0", "#3b4aa3", "#3f6cbd", "#4f9fd8", "#6cc3e2", "#88d4dc", "#96dcd1", "#90dcc4", "#78d08e", "#60c452", "#60c452", "#a2d644", "#e8e23a", "#f2df34", "#f5b42a", "#ee7426", "#e03c22"],
            "interpolate": "rgb", "clamp": true
          }
        }
      }
    },
    {
      "data": {"name": "gridX"},
      "mark": {"type": "rule", "color": "#6b6b6b", "strokeWidth": 2},
      "encoding": {"x": {"field": "x", "type": "quantitative"}}
    },
    {
      "data": {"name": "gridY"},
      "mark": {"type": "rule", "color": "#6b6b6b", "strokeWidth": 2},
      "encoding": {"y": {"field": "y", "type": "quantitative"}}
    },
    {
      "data": {"name": "contours"},
      "mark": {"type": "line", "color": "#000", "strokeWidth": 1.6, "interpolate": "catmull-rom", "clip": true},
      "encoding": {
        "x": {"field": "x", "type": "quantitative"},
        "y": {"field": "y", "type": "quantitative"},
        "detail": {"field": "c", "type": "nominal"},
        "order": {"field": "i", "type": "quantitative"}
      }
    },
    {
      "data": {"name": "labels"},
      "transform": [{"filter": {"field": "t", "oneOf": ["33", "34", "36"]}}],
      "mark": {"type": "rect", "width": 31, "height": 23, "fill": "white", "stroke": "#111", "strokeWidth": 1.5},
      "encoding": {
        "x": {"field": "x", "type": "quantitative"},
        "y": {"field": "y", "type": "quantitative"}
      }
    },
    {
      "data": {"name": "labels"},
      "transform": [{"filter": {"field": "t", "equal": "34.89"}}],
      "mark": {"type": "rect", "width": 61, "height": 23, "fill": "white", "stroke": "#111", "strokeWidth": 1.5},
      "encoding": {
        "x": {"field": "x", "type": "quantitative"},
        "y": {"field": "y", "type": "quantitative"}
      }
    },
    {
      "data": {"name": "labels"},
      "mark": {"type": "text", "font": "Liberation Sans", "fontSize": 19, "fontWeight": "bold", "color": "#1a1a1a", "align": "center", "baseline": "middle", "dy": 1},
      "encoding": {
        "x": {"field": "x", "type": "quantitative"},
        "y": {"field": "y", "type": "quantitative"},
        "text": {"field": "t", "type": "nominal"}
      }
    }
  ]
}
